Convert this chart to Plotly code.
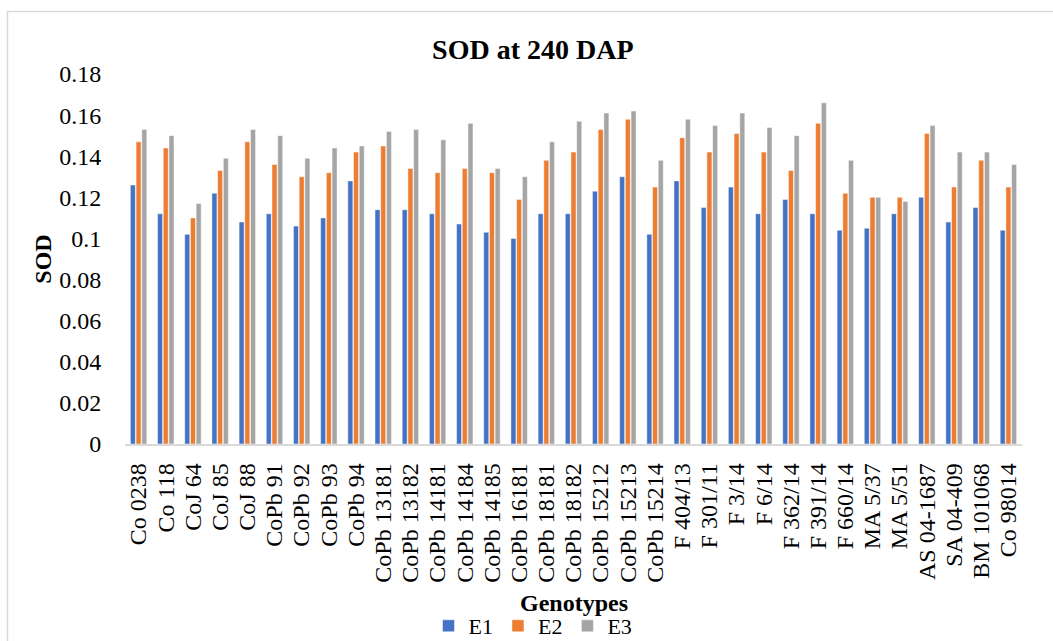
import plotly.graph_objects as go

# Genotypes on the category axis
genotypes = [
    "Co 0238", "Co 118", "CoJ 64", "CoJ 85", "CoJ 88", "CoPb 91", "CoPb 92",
    "CoPb 93", "CoPb 94", "CoPb 13181", "CoPb 13182", "CoPb 14181",
    "CoPb 14184", "CoPb 14185", "CoPb 16181", "CoPb 18181", "CoPb 18182",
    "CoPb 15212", "CoPb 15213", "CoPb 15214", "F 404/13", "F 301/11",
    "F 3/14", "F 6/14", "F 362/14", "F 391/14", "F 660/14", "MA 5/37",
    "MA 5/51", "AS 04-1687", "SA 04-409", "BM 101068", "Co 98014",
]

# SOD at 240 DAP for each environment
e1 = [0.126, 0.112, 0.102, 0.122, 0.108, 0.112, 0.106, 0.110, 0.128, 0.114,
      0.114, 0.112, 0.107, 0.103, 0.100, 0.112, 0.112, 0.123, 0.130, 0.102,
      0.128, 0.115, 0.125, 0.112, 0.119, 0.112, 0.104, 0.105, 0.112, 0.120,
      0.108, 0.115, 0.104]
e2 = [0.147, 0.144, 0.110, 0.133, 0.147, 0.136, 0.130, 0.132, 0.142, 0.145,
      0.134, 0.132, 0.134, 0.132, 0.119, 0.138, 0.142, 0.153, 0.158, 0.125,
      0.149, 0.142, 0.151, 0.142, 0.133, 0.156, 0.122, 0.120, 0.120, 0.151,
      0.125, 0.138, 0.125]
e3 = [0.153, 0.150, 0.117, 0.139, 0.153, 0.150, 0.139, 0.144, 0.145, 0.152,
      0.153, 0.148, 0.156, 0.134, 0.130, 0.147, 0.157, 0.161, 0.162, 0.138,
      0.158, 0.155, 0.161, 0.154, 0.150, 0.166, 0.138, 0.120, 0.118, 0.155,
      0.142, 0.142, 0.136]

series = [("E1", e1, "#4472C4"), ("E2", e2, "#ED7D31"), ("E3", e3, "#A5A5A5")]

FONT = "Liberation Serif"

fig = go.Figure()
for name, vals, color in series:
    fig.add_trace(go.Bar(
        x=genotypes, y=vals, name=name,
        marker=dict(color=color, line=dict(color="rgba(255,255,255,0.6)", width=0.8)),
    ))

fig.update_layout(
    width=1053, height=641,
    margin=dict(l=125, r=31, t=74, b=197, autoexpand=False),
    paper_bgcolor="white", plot_bgcolor="white",
    barmode="group", bargap=0.37, bargroupgap=0.12,
    font=dict(family=FONT, color="black", size=23),
    title=dict(text="<b>SOD at 240 DAP</b>", x=0.506, xanchor="center",
               y=1 - 49 / 641, yanchor="middle",
               font=dict(family=FONT, size=28, color="black")),
    showlegend=True,
    legend=dict(orientation="h", xref="container", yref="container",
                x=533 / 1053, xanchor="center", y=1 - 626 / 641, yanchor="middle",
                font=dict(family=FONT, size=22), itemwidth=30,
                traceorder="normal", bgcolor="rgba(0,0,0,0)"),
    xaxis=dict(
        type="category", tickmode="linear", dtick=1, tickangle=-90,
        showgrid=False, zeroline=False,
        showline=True, linecolor="#D9D9D9", linewidth=1.5, automargin=False,
        ticks="outside", ticklen=8, tickcolor="rgba(0,0,0,0)",
        tickfont=dict(family=FONT, size=24, color="black"),
    ),
    yaxis=dict(
        range=[0, 0.18], dtick=0.02, tick0=0, showgrid=False, zeroline=False,
        showline=False, ticks="outside", ticklen=18, tickcolor="rgba(0,0,0,0)",
        automargin=False,
        tickfont=dict(family=FONT, size=24, color="black"),
        title=dict(text="<b>SOD</b>", font=dict(family=FONT, size=24, color="black"),
                   standoff=0),
    ),
    annotations=[
        dict(text="<b>Genotypes</b>", xref="paper", yref="paper",
             x=0.5, y=(443.5 - 602) / 369.5, xanchor="center", yanchor="middle",
             showarrow=False, font=dict(family=FONT, size=24, color="black")),
    ],
    shapes=[
        dict(type="rect", xref="paper", yref="paper",
             x0=-0.131, x1=1.2, y0=-0.6, y1=1.169,
             line=dict(color="#D9D9D9", width=1.5), fillcolor="rgba(0,0,0,0)",
             layer="below"),
    ],
)

fig.write_html("out.html")
